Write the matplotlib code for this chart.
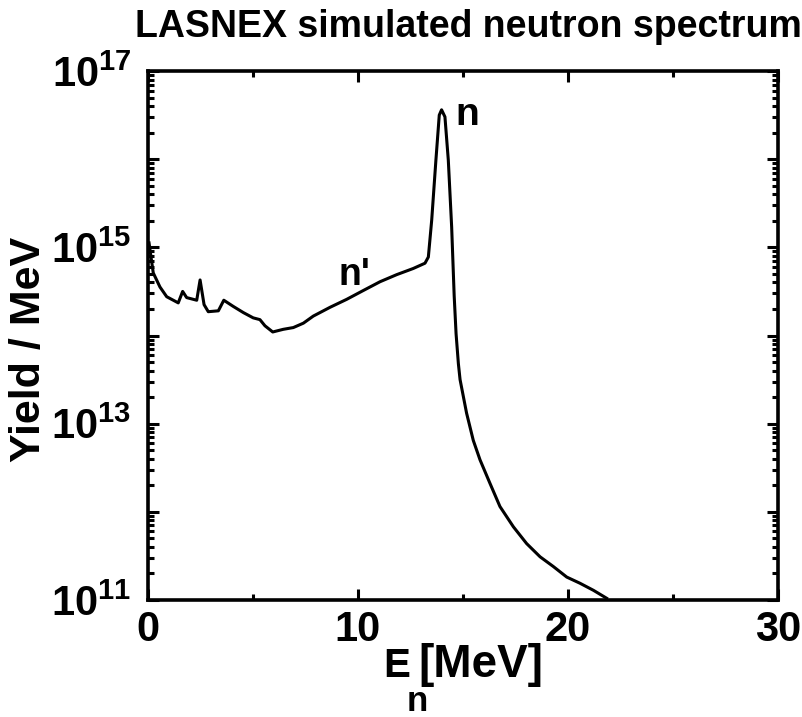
import numpy as np
import matplotlib
matplotlib.use("Agg")
import matplotlib.pyplot as plt
from matplotlib.ticker import FixedLocator, LogLocator, NullFormatter, FixedFormatter

# ---- data (energy in MeV, log10 of yield / MeV) ----
energy_mev = [0.05, 0.25, 0.57, 0.89, 1.44, 1.65, 1.84, 2.32, 2.48, 2.67, 2.87,
              3.35, 3.61, 4.06, 4.54, 5.01, 5.33, 5.57, 5.94, 6.44, 6.92, 7.40,
              7.87, 8.67, 9.46, 10.25, 11.05, 11.84, 12.63, 13.19, 13.35, 13.51,
              13.71, 13.87, 13.98, 14.14, 14.30, 14.46, 14.58, 14.67, 14.78,
              14.86, 15.17, 15.49, 15.81, 16.29, 16.76, 17.40, 18.03, 18.67,
              19.30, 19.94, 20.57, 21.21, 21.84]
log_yield = [15.05, 14.71, 14.55, 14.44, 14.37, 14.50, 14.43, 14.40, 14.63, 14.35,
             14.27, 14.28, 14.40, 14.33, 14.26, 14.20, 14.18, 14.11, 14.04, 14.07,
             14.09, 14.14, 14.22, 14.32, 14.41, 14.51, 14.61, 14.69, 14.76, 14.82,
             14.89, 15.31, 15.99, 16.50, 16.56, 16.48, 15.99, 15.23, 14.45, 14.02,
             13.68, 13.50, 13.12, 12.81, 12.59, 12.32, 12.06, 11.83, 11.64, 11.49,
             11.38, 11.26, 11.19, 11.11, 11.02]
yield_per_mev = [10 ** v for v in log_yield]

x_ticks = [0, 10, 20, 30]
x_tick_labels = ["0", "10", "20", "30"]
y_major = [1e11, 1e12, 1e13, 1e14, 1e15, 1e16, 1e17]
y_tick_labels = [r"$\mathbf{10^{11}}$", "", r"$\mathbf{10^{13}}$", "",
                 r"$\mathbf{10^{15}}$", "", r"$\mathbf{10^{17}}$"]

title_text = "LASNEX simulated neutron spectrum"
ylabel_text = "Yield / MeV"

plt.rcParams["font.family"] = ["Liberation Sans", "DejaVu Sans"]
plt.rcParams["font.weight"] = "bold"
plt.rcParams["mathtext.fontset"] = "custom"
plt.rcParams["mathtext.rm"] = "Liberation Sans:bold"
plt.rcParams["mathtext.bf"] = "Liberation Sans:bold"
plt.rcParams["mathtext.it"] = "Liberation Sans:bold"

W, H = 803, 717
fig = plt.figure(figsize=(W / 100, H / 100), dpi=100)
ax = fig.add_axes([148 / W, (H - 600) / H, 630 / W, 529 / H])

ax.plot(energy_mev, yield_per_mev, color="black", lw=2.2, solid_joinstyle="round")

ax.set_yscale("log")
ax.set_xlim(0, 30)
ax.set_ylim(1e11, 1e17)

ax.xaxis.set_major_locator(FixedLocator(x_ticks))
ax.xaxis.set_major_formatter(FixedFormatter(x_tick_labels))
ax.xaxis.set_minor_locator(FixedLocator([5, 15, 25]))
ax.yaxis.set_major_locator(FixedLocator(y_major))
ax.yaxis.set_major_formatter(FixedFormatter(y_tick_labels))
ax.yaxis.set_minor_locator(LogLocator(base=10, subs=np.arange(2, 10), numticks=20))
ax.yaxis.set_minor_formatter(NullFormatter())

for s in ax.spines.values():
    s.set_linewidth(2.6)

ax.tick_params(which="both", direction="in", top=True, right=True, width=2.2)
ax.tick_params(which="major", length=8)
ax.tick_params(which="minor", length=4.5)
ax.tick_params(axis="x", which="major", labelsize=30, pad=7)
ax.tick_params(axis="y", which="major", labelsize=30, pad=12)
for lab in ax.get_xticklabels() + ax.get_yticklabels():
    lab.set_fontweight("bold")

# title and axis labels
fig.text(468 / W, (H - 37) / H, title_text, ha="center", va="baseline",
         fontsize=27, fontweight="bold")
fig.text(29 / W, (H - 349) / H, ylabel_text, ha="center", va="center",
         rotation=90, fontsize=31, fontweight="bold")
fig.text(383 / W, (H - 677) / H, "E", ha="left", va="baseline",
         fontsize=29, fontweight="bold")
fig.text(407 / W, (H - 711) / H, "n", ha="left", va="baseline",
         fontsize=25, fontweight="bold")
fig.text(418 / W, (H - 677) / H, "[MeV]", ha="left", va="baseline",
         fontsize=33, fontweight="bold")

# peak annotations
ax.text(9.05, 10 ** 14.573, "n'", ha="left", va="baseline", fontsize=27,
        fontweight="bold")
ax.text(14.62, 10 ** 16.39, "n", ha="left", va="baseline", fontsize=28,
        fontweight="bold")

fig.savefig("out.png", dpi=100)
